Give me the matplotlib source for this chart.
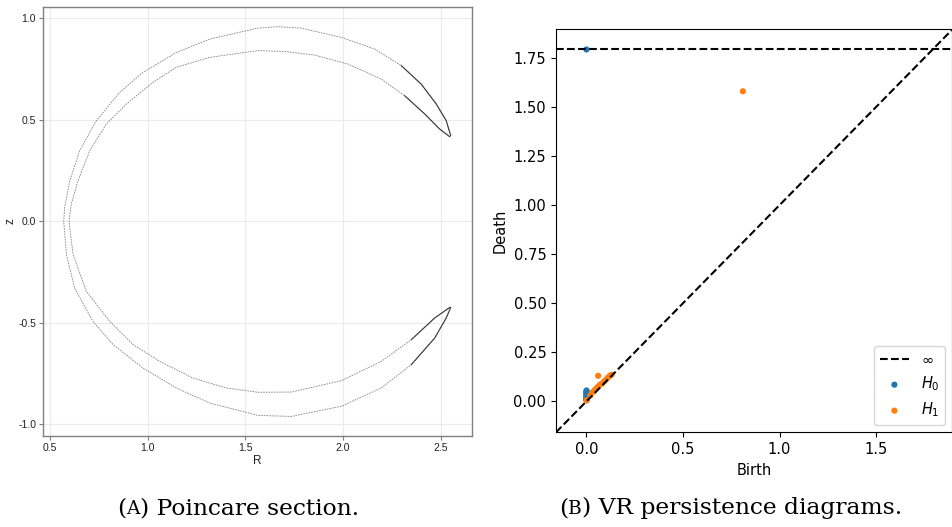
import numpy as np
import matplotlib.pyplot as plt

plt.rcParams['axes.unicode_minus'] = False

# Poincare section.
# outer / inner branch of the crescent, each from the upper tip, round the left side, to the lower tip
outer_R = [2.552, 2.529, 2.478, 2.401, 2.299, 2.163, 1.992, 1.787, 1.667, 1.565, 1.318, 1.147,
           0.976, 0.857, 0.737, 0.652, 0.601, 0.575, 0.570, 0.584, 0.626, 0.720, 0.823, 0.976,
           1.147, 1.318, 1.565, 1.736, 1.992, 2.196, 2.350, 2.470, 2.529, 2.552]
outer_z = [0.422, 0.496, 0.578, 0.676, 0.767, 0.849, 0.906, 0.952, 0.959, 0.952, 0.898, 0.832,
           0.734, 0.635, 0.496, 0.348, 0.200, 0.069, 0.000, -0.164, -0.329, -0.493, -0.607, -0.723,
           -0.821, -0.895, -0.956, -0.961, -0.911, -0.821, -0.706, -0.575, -0.476, -0.424]
inner_R = [2.547, 2.495, 2.419, 2.316, 2.196, 2.026, 1.855, 1.702, 1.565, 1.318, 1.147, 1.027,
           0.891, 0.788, 0.703, 0.643, 0.609, 0.597, 0.618, 0.686, 0.806, 0.925, 1.062, 1.232,
           1.403, 1.565, 1.736, 1.992, 2.196, 2.350, 2.470, 2.547]
inner_z = [0.417, 0.455, 0.529, 0.619, 0.701, 0.775, 0.819, 0.837, 0.841, 0.808, 0.759, 0.685,
           0.578, 0.479, 0.348, 0.200, 0.085, 0.000, -0.164, -0.345, -0.493, -0.607, -0.690, -0.772,
           -0.821, -0.842, -0.841, -0.785, -0.690, -0.583, -0.476, -0.424]

# VR persistence pairs (birth, death); inf = never dies
h0_birth = [0.0, 0.0, 0.0, 0.0, 0.0, 0.0, 0.0, 0.0, 0.0, 0.0, 0.0, 0.0]
h0_death = [0.005, 0.01, 0.015, 0.02, 0.025, 0.03, 0.035, 0.04, 0.045, 0.05, 0.055, np.inf]
h1_birth = [0.0, 0.02, 0.03, 0.04, 0.05, 0.06, 0.07, 0.08, 0.09, 0.10, 0.11, 0.12, 0.13, 0.06, 0.81]
h1_death = [0.005, 0.03, 0.045, 0.055, 0.065, 0.075, 0.085, 0.09, 0.10, 0.11, 0.12, 0.13, 0.135, 0.13, 1.58]

left_xticks = [0.5, 1.0, 1.5, 2.0, 2.5]
left_yticks = [-1.0, -0.5, 0.0, 0.5, 1.0]
right_xticks = [0.0, 0.5, 1.0, 1.5]
right_yticks = [0.0, 0.25, 0.5, 0.75, 1.0, 1.25, 1.5, 1.75]

caption_tags = ['A', 'B']
caption_texts = ['Poincare section.', 'VR persistence diagrams.']

W, H = 953, 527
fig = plt.figure(figsize=(W / 100, H / 100), dpi=100)

# ---- left: Poincare section ----
ax1 = fig.add_axes([43 / W, 1 - 435.7 / H, 429 / W, 428.7 / H])
for R, z in [(outer_R, outer_z), (inner_R, inner_z)]:
    R = np.array(R)
    z = np.array(z)
    ax1.plot(R, z, color='#6e6e6e', lw=0.6, ls=(0, (2, 1.2)), alpha=0.85)
    near_tip = R > 2.25
    # branches are darker where they pile up at the tips
    for part in [np.arange(len(R)) < len(R) // 2, np.arange(len(R)) >= len(R) // 2]:
        sel = near_tip & part
        ax1.plot(R[sel], z[sel], color='#3a3a3a', lw=0.8)

ax1.set_xlim(0.464, 2.661)
ax1.set_ylim(-1.056, 1.056)
ax1.set_xticks(left_xticks)
ax1.set_yticks(left_yticks)
ax1.grid(color='#ebebeb', lw=0.8)
ax1.set_axisbelow(True)
for s in ax1.spines.values():
    s.set_color('#808080')
    s.set_linewidth(1.0)
ax1.tick_params(direction='out', length=3, width=0.8, color='#808080',
                labelsize=7.5, labelcolor='#222222', pad=2)
for lab in ax1.get_xticklabels() + ax1.get_yticklabels():
    lab.set_family('Liberation Sans')
ax1.set_xlabel('R', fontsize=8.5, family='Liberation Sans', labelpad=2, color='#222222')
ax1.set_ylabel('z', fontsize=8.5, family='Liberation Sans', labelpad=1, color='#222222')

# ---- right: persistence diagram ----
ax2 = fig.add_axes([556 / W, 1 - 432.3 / H, 396.5 / W, 403 / H])
finite = np.concatenate([h0_birth, h1_birth, h1_death,
                         [d for d in h0_death if np.isfinite(d)]])
lo, hi = finite.min(), finite.max()
buf = (hi - lo) / 5
x_down, x_up = lo - buf / 2, hi + buf
b_inf = x_down + (x_up - x_down) * 0.95

ax2.plot([x_down, x_up], [x_down, x_up], '--', c='k')
ax2.plot([x_down, x_up], [b_inf, b_inf], '--', c='k', label=r'$\infty$')
h0_plot = [b_inf if not np.isfinite(d) else d for d in h0_death]
ax2.scatter(h0_birth, h0_plot, 20, label='$H_0$', edgecolor='none')
ax2.scatter(h1_birth, h1_death, 20, label='$H_1$', edgecolor='none')
ax2.set_xlim(x_down, x_up)
ax2.set_ylim(x_down, x_up)
ax2.set_xticks(right_xticks)
ax2.set_yticks(right_yticks)
ax2.set_yticklabels(['%.2f' % v for v in right_yticks])
ax2.tick_params(labelsize=10.5)
ax2.set_xlabel('Birth', fontsize=10.5)
ax2.set_ylabel('Death', fontsize=10.5)
ax2.legend(loc='lower right', fontsize=10.5)

# ---- captions, with small-caps panel letters ----
fig.canvas.draw()
rend = fig.canvas.get_renderer()
serif = 'DejaVu Serif'
fs = 16.8
for x0, tag, txt in zip([117, 559], caption_tags, caption_texts):
    yb = 13 / H
    t = fig.text(x0 / W, yb, '(', fontsize=fs, family=serif, va='baseline')
    x1 = t.get_window_extent(rend).x1
    t = fig.text(x1 / W, yb, tag, fontsize=fs * 0.8, family=serif, va='baseline')
    x1 = t.get_window_extent(rend).x1
    fig.text(x1 / W, yb, ') ' + txt, fontsize=fs, family=serif, va='baseline')

fig.savefig('out.png', dpi=100)
